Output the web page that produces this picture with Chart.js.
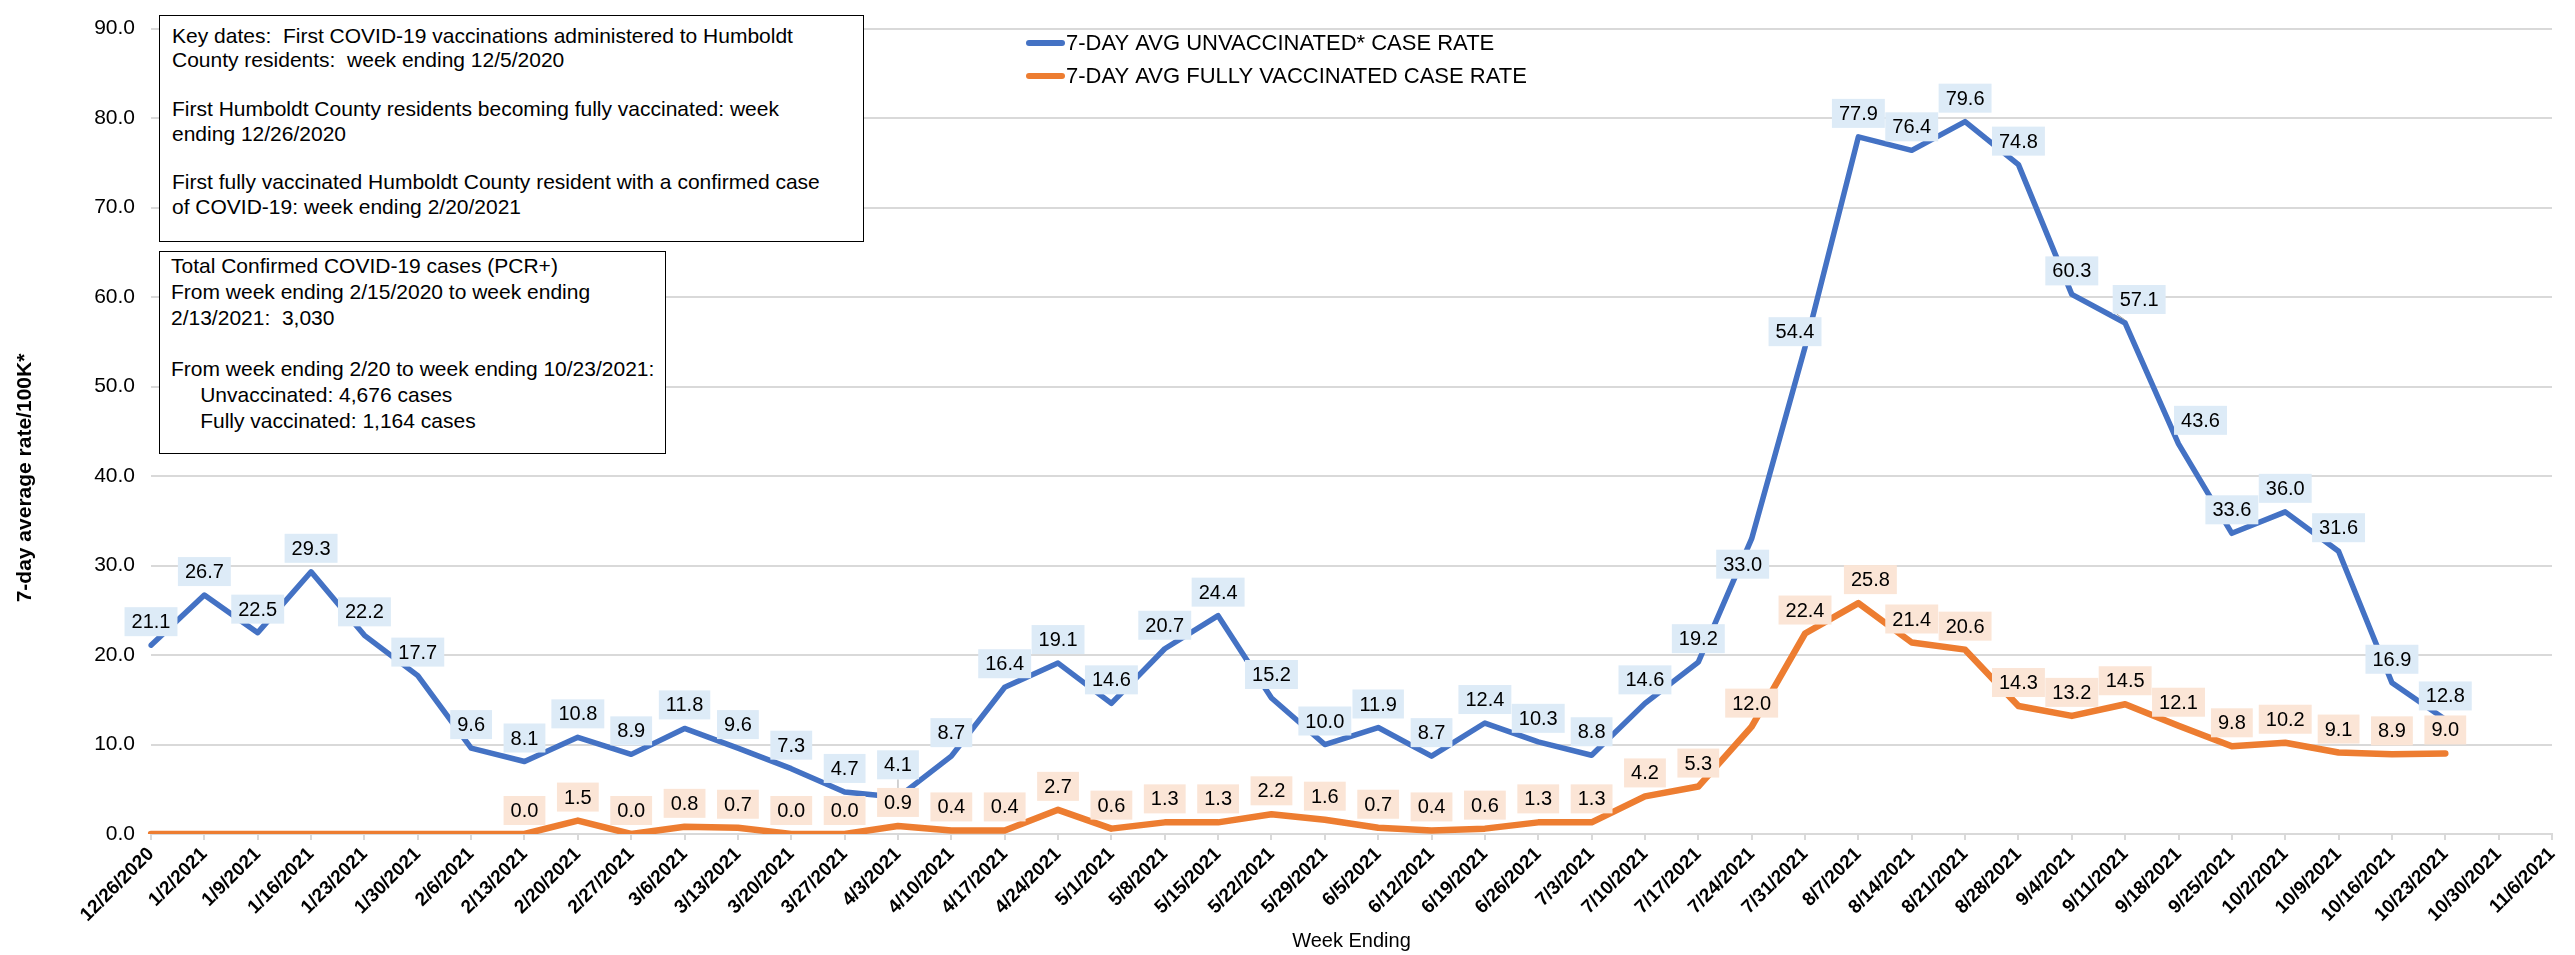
<!DOCTYPE html>
<html>
<head>
<meta charset="utf-8">
<title>7-day average case rate, unvaccinated vs fully vaccinated</title>
<script src="https://cdn.jsdelivr.net/npm/chart.js@4.4.1/dist/chart.umd.min.js"></script>
<style>
    body { margin: 0; background: #fff; }
    #wrap { position: relative; width: 2575px; height: 955px; }
    .note {
        position: absolute;
        box-sizing: border-box;
        background: #fff;
        border: 1.5px solid #000;
        font: 21px "Liberation Sans", Arial, sans-serif;
        color: #000;
        white-space: pre;
    }
</style>
</head>
<body>
<div id="wrap">
    <canvas id="chart"></canvas>
    <div class="note" id="note1" style="left:159px; top:15px; width:705px; height:227px; padding:8px 0 0 12px; line-height:24.4px;"></div>
    <div class="note" id="note2" style="left:159px; top:251px; width:507px; height:203px; padding:1px 0 0 11px; line-height:25.8px;"></div>
</div>

<script>
const weeks = [
    "12/26/2020", "1/2/2021", "1/9/2021", "1/16/2021", "1/23/2021", "1/30/2021",
    "2/6/2021", "2/13/2021", "2/20/2021", "2/27/2021", "3/6/2021", "3/13/2021",
    "3/20/2021", "3/27/2021", "4/3/2021", "4/10/2021", "4/17/2021", "4/24/2021",
    "5/1/2021", "5/8/2021", "5/15/2021", "5/22/2021", "5/29/2021", "6/5/2021",
    "6/12/2021", "6/19/2021", "6/26/2021", "7/3/2021", "7/10/2021", "7/17/2021",
    "7/24/2021", "7/31/2021", "8/7/2021", "8/14/2021", "8/21/2021", "8/28/2021",
    "9/4/2021", "9/11/2021", "9/18/2021", "9/25/2021", "10/2/2021", "10/9/2021",
    "10/16/2021", "10/23/2021", "10/30/2021", "11/6/2021"
];

const unvaccinated = [
    21.1, 26.7, 22.5, 29.3, 22.2, 17.7, 9.6, 8.1, 10.8, 8.9, 11.8, 9.6,
    7.3, 4.7, 4.1, 8.7, 16.4, 19.1, 14.6, 20.7, 24.4, 15.2, 10.0, 11.9,
    8.7, 12.4, 10.3, 8.8, 14.6, 19.2, 33.0, 54.4, 77.9, 76.4, 79.6, 74.8,
    60.3, 57.1, 43.6, 33.6, 36.0, 31.6, 16.9, 12.8, null, null
];

const fullyVaccinated = [
    0.0, 0.0, 0.0, 0.0, 0.0, 0.0, 0.0, 0.0, 1.5, 0.0, 0.8, 0.7,
    0.0, 0.0, 0.9, 0.4, 0.4, 2.7, 0.6, 1.3, 1.3, 2.2, 1.6, 0.7,
    0.4, 0.6, 1.3, 1.3, 4.2, 5.3, 12.0, 22.4, 25.8, 21.4, 20.6, 14.3,
    13.2, 14.5, 12.1, 9.8, 10.2, 9.1, 8.9, 9.0, null, null
];

// fully vaccinated labels only start once the first residents were fully vaccinated
const vaccinatedLabelFrom = 7;

const yMax = 90;
const yStep = 10;

const note1Lines = [
    "Key dates:  First COVID-19 vaccinations administered to Humboldt",
    "County residents:  week ending 12/5/2020",
    "",
    "First Humboldt County residents becoming fully vaccinated: week",
    "ending 12/26/2020",
    "",
    "First fully vaccinated Humboldt County resident with a confirmed case",
    "of COVID-19: week ending 2/20/2021"
];

const note2Lines = [
    "Total Confirmed COVID-19 cases (PCR+)",
    "From week ending 2/15/2020 to week ending",
    "2/13/2021:  3,030",
    "",
    "From week ending 2/20 to week ending 10/23/2021:",
    "     Unvaccinated: 4,676 cases",
    "     Fully vaccinated: 1,164 cases"
];

document.getElementById("note1").textContent = note1Lines.join("\n");
document.getElementById("note2").textContent = note2Lines.join("\n");

const FONT = '"Liberation Sans", Arial, sans-serif';

// hand-placed labels in the original: [dx, dy, leader line]
const unvaccNudges = { 14: [0, -9, true], 30: [-9, 49], 31: [-10, 8], 37: [14, 0, true], 38: [22, 0] };
const vaccNudges = { 32: [12, 0] };

const valueLabels = {
    id: "valueLabels",
    afterDatasetsDraw(chart) {
        const ctx = chart.ctx;
        ctx.save();
        ctx.font = "20px " + FONT;
        ctx.textAlign = "center";
        ctx.textBaseline = "middle";
        chart.data.datasets.forEach((ds, i) => {
            const meta = chart.getDatasetMeta(i);
            meta.data.forEach((pt, j) => {
                const v = ds.data[j];
                if (v == null || j < ds.labelFrom) return;
                const n = ds.nudges[j] || [0, 0];
                const text = v.toFixed(1);
                const w = ctx.measureText(text).width + 14;
                const h = 29;
                const cx = pt.x + n[0];
                const bottom = pt.y - 9 + n[1];
                if (n[2]) {
                    ctx.strokeStyle = "#A6A6A6";
                    ctx.lineWidth = 1;
                    ctx.beginPath();
                    ctx.moveTo(cx - (n[0] ? w / 2 - 4 : 0), bottom);
                    ctx.lineTo(pt.x, pt.y - 3);
                    ctx.stroke();
                }
                ctx.fillStyle = ds.labelFill;
                ctx.fillRect(cx - w / 2, bottom - h, w, h);
                ctx.fillStyle = "#000";
                ctx.fillText(text, cx, bottom - h / 2 + 1);
            });
        });
        ctx.restore();
    }
};

const legendAndTitle = {
    id: "legendAndTitle",
    afterDraw(chart) {
        const ctx = chart.ctx;
        ctx.save();
        // legend inside the plot
        ctx.font = "22px " + FONT;
        ctx.textBaseline = "middle";
        ctx.textAlign = "left";
        chart.data.datasets.forEach((ds, i) => {
            const y = 43 + i * 33;
            ctx.strokeStyle = ds.borderColor;
            ctx.lineWidth = 6;
            ctx.lineCap = "round";
            ctx.beginPath();
            ctx.moveTo(1029, y);
            ctx.lineTo(1062, y);
            ctx.stroke();
            ctx.fillStyle = "#000";
            ctx.fillText(ds.label, 1066, y + 1);
        });
        // y axis title
        ctx.font = "bold 21px " + FONT;
        ctx.textAlign = "center";
        ctx.translate(25, 478);
        ctx.rotate(-Math.PI / 2);
        ctx.fillText("7-day average rate/100K*", 0, 0);
        ctx.restore();
    }
};

new Chart(document.getElementById("chart"), {
    type: "line",
    data: {
        labels: weeks,
        datasets: [{
            label: "7-DAY AVG UNVACCINATED* CASE RATE",
            data: unvaccinated,
            borderColor: "#4472C4",
            borderWidth: 5.5,
            labelFill: "#DDEBF7",
            labelFrom: 0,
            nudges: unvaccNudges
        }, {
            label: "7-DAY AVG FULLY VACCINATED CASE RATE",
            data: fullyVaccinated,
            borderColor: "#ED7D31",
            borderWidth: 6.5,
            labelFill: "#FBE5D6",
            labelFrom: vaccinatedLabelFrom,
            nudges: vaccNudges
        }]
    },
    options: {
        responsive: true,
        maintainAspectRatio: false,
        animation: false,
        layout: { padding: { top: 15, right: 23, bottom: 0, left: 0 } },
        elements: {
            point: { radius: 0, hoverRadius: 0 },
            line: { tension: 0, borderJoinStyle: "round", borderCapStyle: "round" }
        },
        plugins: {
            legend: { display: false },
            tooltip: { enabled: false }
        },
        scales: {
            x: {
                offset: false,
                afterFit(scale) { scale.height = 121; },
                grid: {
                    drawOnChartArea: false,
                    drawTicks: true,
                    tickLength: 6,
                    color: "#D9D9D9",
                    lineWidth: 2
                },
                border: { display: true, color: "#D9D9D9", width: 2 },
                ticks: {
                    autoSkip: false,
                    maxRotation: 45,
                    minRotation: 45,
                    padding: 3,
                    color: "#000",
                    font: { family: FONT, size: 19, weight: "bold" }
                },
                title: {
                    display: true,
                    text: "Week Ending",
                    color: "#000",
                    padding: { top: 0, bottom: 2 },
                    font: { family: FONT, size: 20 }
                }
            },
            y: {
                min: 0,
                max: yMax,
                afterFit(scale) { scale.width = 151; },
                grid: { color: "#D9D9D9", lineWidth: 2, drawTicks: false },
                border: { display: false },
                ticks: {
                    stepSize: yStep,
                    padding: 16,
                    color: "#000",
                    font: { family: FONT, size: 21 },
                    callback: v => v.toFixed(1)
                }
            }
        }
    },
    plugins: [valueLabels, legendAndTitle]
});
</script>
</body>
</html>
